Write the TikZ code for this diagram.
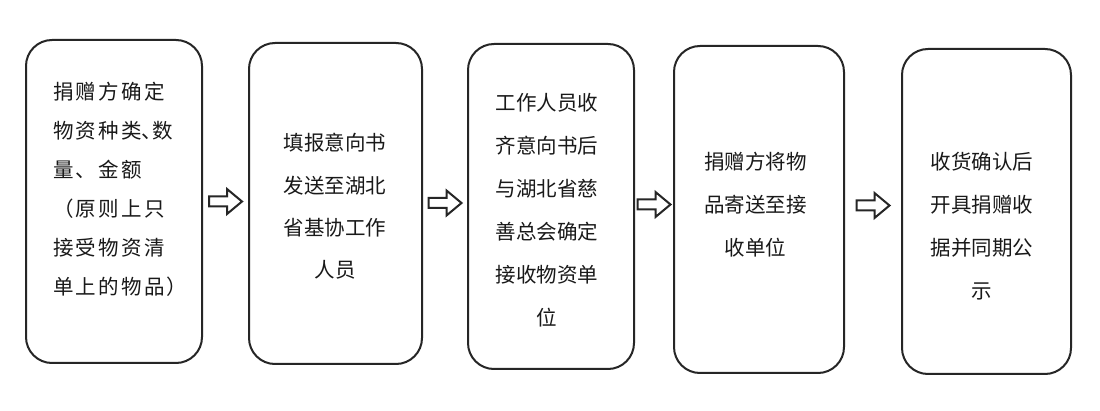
\documentclass[tikz,border=0pt]{standalone}
\usepackage{fontspec}
\newfontfamily\cjk{Noto Sans CJK SC}
\newfontfamily\cjkls[LetterSpace=11]{Noto Sans CJK SC}
\usetikzlibrary{calc}
\tikzset{
  box/.style={draw=black!85, line width=2pt, rounded corners=26pt, anchor=north west, inner sep=0pt},
  txt/.style={font=\cjk\fontsize{20.5}{43}\selectfont, text=black!90, inner sep=0pt, align=center},
  hollow/.pic={\draw[line width=2pt, black!85, line join=miter]
     (-16.5,-5) -- (1.5,-5) -- (1.5,-12.5) -- (16.5,0) -- (1.5,12.5) -- (1.5,5) -- (-16.5,5) -- cycle;}
}
\begin{document}
\begin{tikzpicture}[x=1pt,y=-1pt]
\useasboundingbox[fill=white] (0,0) rectangle (1100,411);
% boxes
\node[box, minimum width=176pt, minimum height=323pt] (b1) at (25,39) {};
\node[box, minimum width=173pt, minimum height=321pt] (b2) at (248,42) {};
\node[box, minimum width=166pt, minimum height=325pt] (b3) at (467,43) {};
\node[box, minimum width=170pt, minimum height=327pt] (b4) at (673,45) {};
\node[box, minimum width=169pt, minimum height=325pt] (b5) at (901,48) {};
% texts
\node[txt, align=left, anchor=west, font=\cjkls\fontsize{20.5}{39}\selectfont] (t1) at (53,189.5)
  {捐赠方确定\\物资种类\makebox[0.5em][l]{、}数\\量、金额\\（原则上只\\接受物资清\\单上的物品）};
\node[txt, font=\cjk\fontsize{20.5}{42.3}\selectfont] (t2) at (335,206.5) {填报意向书\\发送至湖北\\省基协工作\\人员};
\node[txt] (t3) at (547,210.5) {工作人员收\\齐意向书后\\与湖北省慈\\善总会确定\\接收物资单\\位};
\node[txt] (t4) at (755.5,205) {捐赠方将物\\品寄送至接\\收单位};
\node[txt] (t5) at (982,226) {收货确认后\\开具捐赠收\\据并同期公\\示};
% arrows
\pic at ($(b1.east)!0.5!(b2.west)+(0,-1)$) {hollow};
\pic at ($(b2.east)!0.5!(b3.west)+(0,-2)$) {hollow};
\pic at ($(b3.east)!0.5!(b4.west)+(0,-3.5)$) {hollow};
\pic at ($(b4.east)!0.5!(b5.west)+(0,-5)$) {hollow};
\end{tikzpicture}
\end{document}
